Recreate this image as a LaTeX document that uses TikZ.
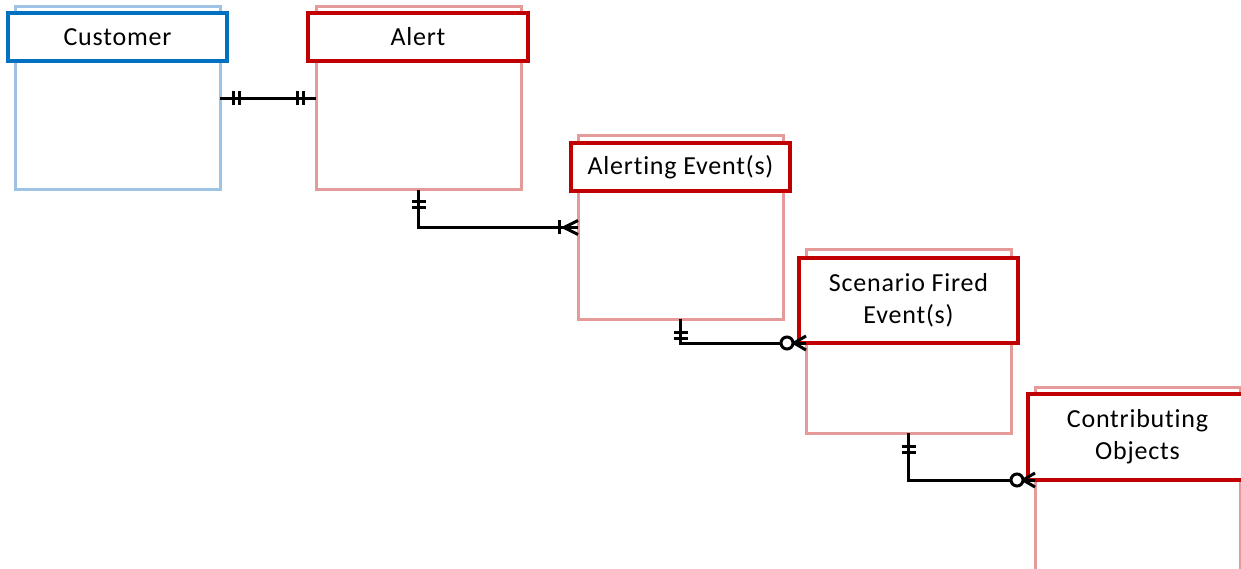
\documentclass[tikz,border=0pt]{standalone}
\usepackage{fontspec}
\setmainfont{Carlito}[LetterSpace=3,RawFeature=-liga]
\usetikzlibrary{calc}
\definecolor{lblue}{RGB}{157,195,230}
\definecolor{dblue}{RGB}{0,112,192}
\definecolor{lred}{RGB}{230,155,155}
\definecolor{dred}{RGB}{192,0,0}
\tikzset{
  body/.style={draw=#1, line width=3pt, minimum width=205pt, minimum height=183pt, inner sep=0pt, outer sep=0pt, anchor=north west},
  head/.style={draw=#1, fill=white, line width=3.2pt, minimum width=219pt, minimum height=48pt, anchor=north west, inner sep=0pt, outer sep=0pt, align=center, font=\fontsize{26}{32}\selectfont},
  conn/.style={line width=3pt, black},
  tickm/.style={line width=3pt, black},
  ring/.style={line width=3pt, black, fill=white},
}
\begin{document}
\begin{tikzpicture}[x=1pt,y=-1pt]
\useasboundingbox (0,0) rectangle (1241,569);
\clip (0,0) rectangle (1241,569);
% entities
\node[body=lblue] (cust) at (15,7) {};
\node[head=dblue] (custh) at (8,13) {\raisebox{-1pt}{Customer}};
\node[body=lred] (alert) at (316,7) {};
\node[head=dred, minimum width=220pt] (alerth) at (308,13) {\raisebox{-1pt}{Alert}};
\node[body=lred] (aevt) at (578,136) {};
\node[head=dred] (aevth) at (571,143) {\raisebox{-1pt}{Alerting Event(s)}};
\node[body=lred] (sfe) at (806,250) {};
\node[head=dred, minimum height=85pt] (sfeh) at (799,258) {Scenario Fired\\Event(s)};
\node[body=lred, minimum height=200pt] (co) at (1035,387) {};
\node[head=dred, minimum width=230pt, minimum height=86pt] (coh) at (1028,394) {\hspace*{-11pt}Contributing\\\hspace*{-11pt}Objects};
% connector 1: one-and-only-one to one-and-only-one
\draw[conn] (cust.east) -- (alert.west);
\foreach \dx in {13,19} {
  \draw[tickm] ($(cust.east)+(\dx,-7)$) -- ($(cust.east)+(\dx,7)$);
  \draw[tickm] ($(alert.west)+(-\dx,-7)$) -- ($(alert.west)+(-\dx,7)$);
}
% connector 2: one-and-only-one to one-or-many
\coordinate (k2) at (alert.south |- aevt.west);
\draw[conn] (alert.south) -- (k2) -- (aevt.west);
\foreach \dy in {12,18} \draw[tickm] ($(alert.south)+(-7,\dy)$) -- ($(alert.south)+(7,\dy)$);
\draw[tickm] ($(aevt.west)+(-19,-7)$) -- ($(aevt.west)+(-19,7)$);
\draw[tickm] ($(aevt.west)+(0,-7)$) -- ($(aevt.west)+(-14,0)$) -- ($(aevt.west)+(0,7)$);
% connector 3: one-and-only-one to zero-or-many
\coordinate (e3) at (sfe.west |- sfeh.south);
\coordinate (k3) at (aevt.south |- e3);
\draw[conn] (aevt.south) -- (k3) -- (e3);
\foreach \dy in {13,19} \draw[tickm] ($(aevt.south)+(-7,\dy)$) -- ($(aevt.south)+(7,\dy)$);
\draw[tickm] ($(e3)+(0,-7)$) -- ($(e3)+(-12,0)$) -- ($(e3)+(0,7)$);
\draw[ring] ($(e3)+(-19,0)$) circle (6);
% connector 4: one-and-only-one to zero-or-many
\coordinate (e4) at (co.west |- coh.south);
\coordinate (k4) at (sfe.south |- e4);
\draw[conn] (sfe.south) -- (k4) -- (e4);
\foreach \dy in {13,19} \draw[tickm] ($(sfe.south)+(-7,\dy)$) -- ($(sfe.south)+(7,\dy)$);
\draw[tickm] ($(e4)+(0,-7)$) -- ($(e4)+(-12,0)$) -- ($(e4)+(0,7)$);
\draw[ring] ($(e4)+(-18,0)$) circle (6);
\end{tikzpicture}
\end{document}
